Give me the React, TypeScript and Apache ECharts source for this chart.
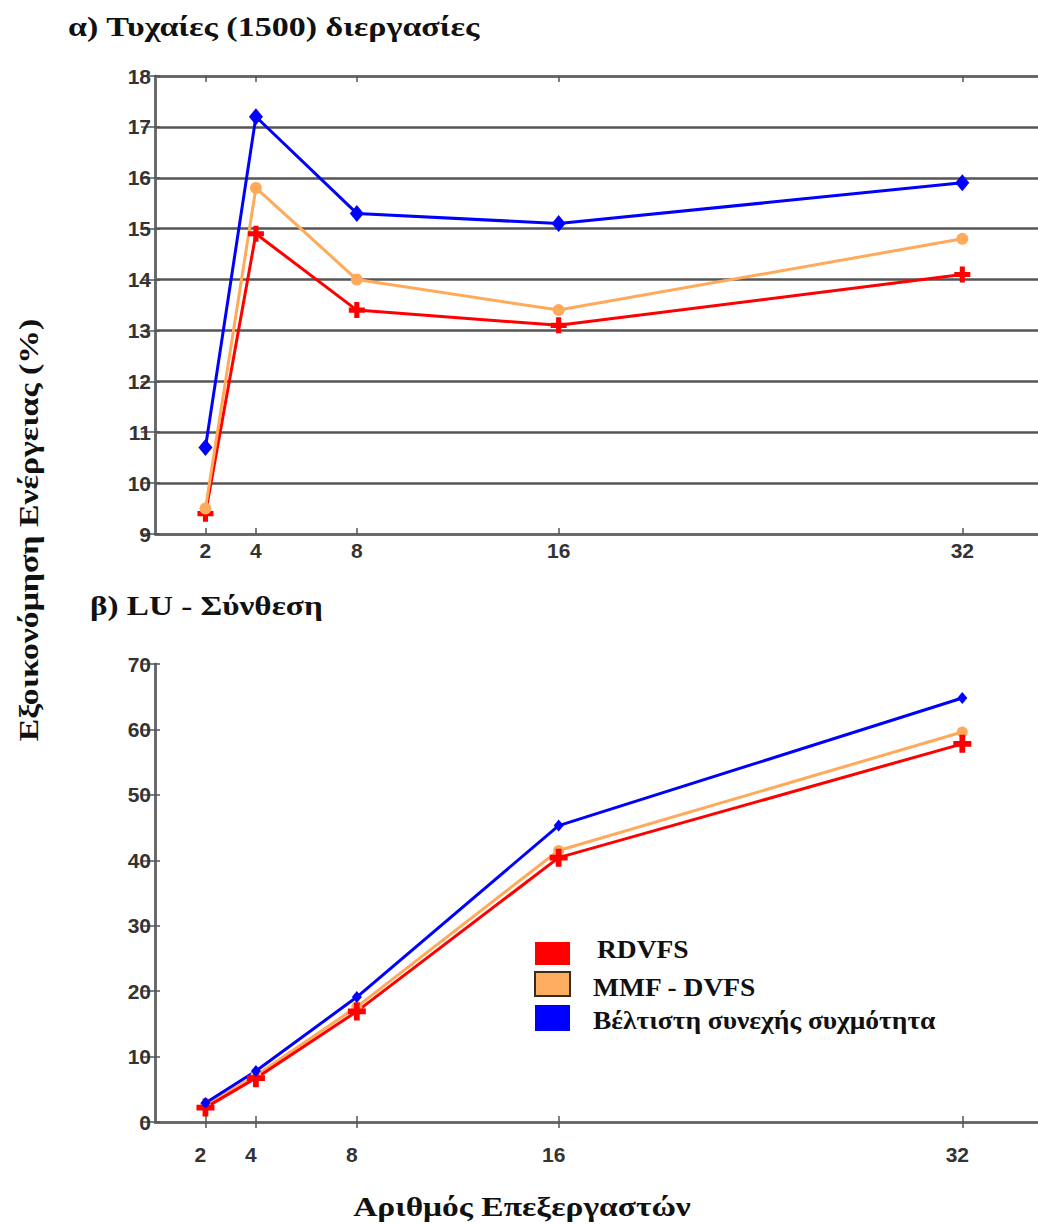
import React, { useEffect, useRef } from "react";
import * as echarts from "echarts";

const cores = [2, 4, 8, 16, 32];
const seriesNames = ["RDVFS", "MMF - DVFS", "Βέλτιστη συνεχής συχμότητα"];

// a) Τυχαίες (1500) διεργασίες
const rdvfsA = [9.4, 14.9, 13.4, 13.1, 14.1];
const mmfA = [9.5, 15.8, 14.0, 13.4, 14.8];
const optA = [10.7, 17.2, 15.3, 15.1, 15.9];

// β) LU - Σύνθεση
const rdvfsB = [2.2, 6.7, 16.9, 40.4, 57.8];
const mmfB = [2.5, 7.1, 17.6, 41.5, 59.6];
const optB = [2.9, 7.8, 19.1, 45.3, 64.8];

const titleA = "α) Τυχαίες (1500) διεργασίες";
const titleB = "β) LU - Σύνθεση";
const yTitle = "Εξοικονόμηση Ενέργειας (%)";
const xTitle = "Αριθμός Επεξεργαστών";

const RED = "#FF0000";
const ORANGE = "#FFAA5A";
const BLUE = "#0000FF";
const PLUS = "path://M3.4,0H6.6V3.4H10V6.6H6.6V10H3.4V6.6H0V3.4H3.4Z";

const SANS = '"Liberation Sans", Arial, sans-serif';
const SERIF = '"Liberation Serif", "Times New Roman", serif';

function pairs(vals: number[]) {
  return cores.map((c, i) => [c, vals[i]]);
}

function txt(
  text: string,
  x: number,
  y: number,
  size: number,
  scaleX: number,
  align: string,
  rotation = 0
) {
  return {
    type: "text",
    x,
    y,
    rotation,
    scaleX,
    style: {
      text,
      fontFamily: SERIF,
      fontWeight: "bold",
      fontSize: size,
      fill: "#111",
      align,
      verticalAlign: "middle",
    },
  };
}

export default function App() {
  const ref = useRef<HTMLDivElement>(null);
  useEffect(() => {
    if (!ref.current) return;
    const chart = echarts.init(ref.current, null, { renderer: "svg" });
    const axisColor = "#666";
    const labelStyle = {
      fontFamily: SANS,
      fontWeight: "bold" as const,
      fontSize: 21,
      color: "#333",
    };
    const xAxes: any[] = [];
    const yAxes: any[] = [];
    const grids = [
      { left: 155, top: 76, width: 889, height: 458 },
      { left: 155, top: 664, width: 889, height: 458 },
    ];
    const yRanges = [
      { min: 9, max: 18, interval: 1, split: true },
      { min: 0, max: 70, interval: 10, split: false },
    ];
    const labelMargins = [6, 22];
    [0, 1].forEach((g) => {
      xAxes.push({
        gridIndex: g,
        type: "value",
        min: 0,
        max: 35,
        position: "bottom",
        axisLine: { show: true, lineStyle: { color: axisColor, width: 2.5 } },
        axisTick: {
          show: true,
          inside: true,
          length: 6,
          customValues: cores,
          lineStyle: { color: "#555", width: 1.5 },
        },
        axisLabel: {
          ...labelStyle,
          customValues: cores,
          margin: labelMargins[g],
          padding: g === 1 ? [0, 10, 0, 0] : 0,
        },
        splitLine: { show: false },
      });
      xAxes.push({
        gridIndex: g,
        type: "value",
        min: 0,
        max: 35,
        position: "top",
        axisLine: { show: true, lineStyle: { color: axisColor, width: 2.5 } },
        axisTick: {
          show: true,
          inside: true,
          length: 6,
          customValues: cores,
          lineStyle: { color: "#555", width: 1.5 },
        },
        axisLabel: { show: false },
        splitLine: { show: false },
      });
      const r = yRanges[g];
      yAxes.push({
        gridIndex: g,
        type: "value",
        min: r.min,
        max: r.max,
        interval: r.interval,
        position: "left",
        axisLine: { show: true, lineStyle: { color: axisColor, width: 2.5 } },
        axisTick: { show: true, inside: true, length: 5, lineStyle: { color: "#555", width: 1.5 } },
        axisLabel: { ...labelStyle, margin: 4 },
        splitLine: { show: r.split, lineStyle: { color: "#555", width: 2.5 } },
      });
      yAxes.push({
        gridIndex: g,
        type: "value",
        min: r.min,
        max: r.max,
        interval: r.interval,
        position: "right",
        axisLine: { show: true, lineStyle: { color: axisColor, width: 2.5 } },
        axisTick: { show: true, inside: true, length: 14, lineStyle: { color: "#555", width: 1.5 } },
        axisLabel: { show: false },
        splitLine: { show: false },
      });
    });

    const mk = (
      name: string,
      vals: number[],
      color: string,
      symbol: string,
      size: number | number[],
      g: number
    ) => ({
      name,
      type: "line",
      xAxisIndex: g * 2,
      yAxisIndex: g * 2,
      data: pairs(vals),
      symbol,
      symbolSize: size,
      showAllSymbol: true,
      lineStyle: { color, width: 3 },
      itemStyle: { color, borderWidth: 0 },
      emphasis: { disabled: true },
      z: 3,
    });

    const series = [
      mk(seriesNames[0], rdvfsA, RED, PLUS, 16, 0),
      mk(seriesNames[1], mmfA, ORANGE, "circle", 12, 0),
      mk(seriesNames[2], optA, BLUE, "diamond", [14, 17], 0),
      mk(seriesNames[1], mmfB, ORANGE, "circle", 11, 1),
      mk(seriesNames[0], rdvfsB, RED, PLUS, 18, 1),
      mk(seriesNames[2], optB, BLUE, "diamond", [10, 12], 1),
    ];

    const legendBoxes = [
      { y: 942, h: 23, fill: RED, stroke: null as string | null },
      { y: 972, h: 24, fill: "#FFAD60", stroke: "#3a2a1a" },
      { y: 1005, h: 26, fill: BLUE, stroke: null as string | null },
    ];
    const legendText = [
      { x: 597, y: 950 },
      { x: 593, y: 988 },
      { x: 593, y: 1021 },
    ];

    chart.setOption({
      animation: false,
      backgroundColor: "#fff",
      grid: grids,
      xAxis: xAxes,
      yAxis: yAxes,
      series,
      graphic: [
        txt(titleA, 68, 27, 27, 1.26, "left"),
        txt(titleB, 90, 606, 27, 1.23, "left"),
        txt(yTitle, 29, 530, 27, 1.25, "center", Math.PI / 2),
        txt(xTitle, 522, 1207, 27, 1.24, "center"),
        ...legendBoxes.map((b) => ({
          type: "rect",
          shape: { x: 535, y: b.y, width: 35, height: b.h },
          style: {
            fill: b.fill,
            stroke: b.stroke || undefined,
            lineWidth: b.stroke ? 2 : 0,
          },
        })),
        ...seriesNames.map((n, i) =>
          txt(n, legendText[i].x, legendText[i].y, 25, 1.1, "left")
        ),
      ],
    });
    return () => chart.dispose();
  }, []);
  return (
    <div
      ref={ref}
      style={{ position: "absolute", left: 0, top: 0, width: 1038, height: 1225 }}
    />
  );
}
